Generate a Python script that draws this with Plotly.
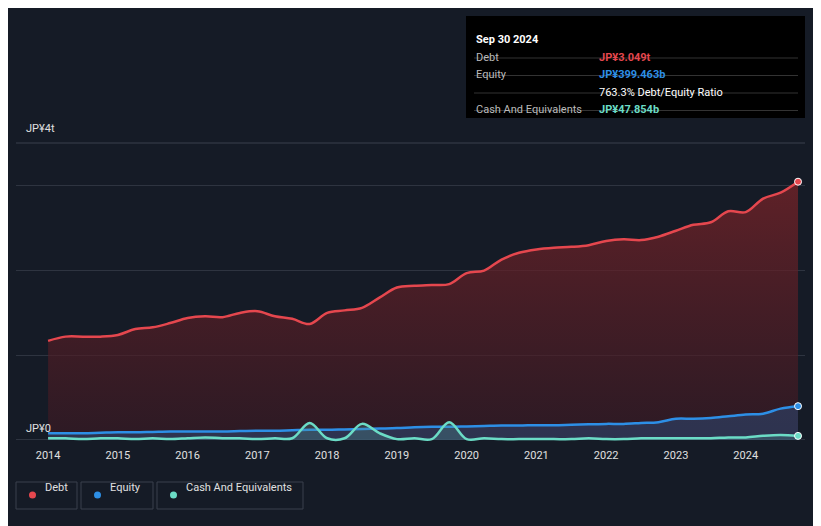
"""Plotly chart: debt / equity history."""
import plotly.graph_objects as go

QUARTERS = [2014 + i * 0.25 for i in range(44)]
DEBT = [1.17, 1.22, 1.22, 1.22, 1.24, 1.31, 1.33, 1.38, 1.44, 1.46, 1.45, 1.50,
        1.52, 1.46, 1.43, 1.37, 1.50, 1.53, 1.56, 1.68, 1.80, 1.82, 1.83, 1.84,
        1.97, 2.00, 2.13, 2.21, 2.25, 2.27, 2.28, 2.30, 2.35, 2.37, 2.36, 2.40,
        2.47, 2.54, 2.57, 2.70, 2.69, 2.85, 2.92, 3.049]
EQUITY = [0.08, 0.08, 0.08, 0.085, 0.09, 0.09, 0.095, 0.10, 0.10, 0.10, 0.10, 0.105,
          0.11, 0.11, 0.115, 0.12, 0.12, 0.125, 0.13, 0.135, 0.14, 0.15, 0.155, 0.155,
          0.16, 0.165, 0.17, 0.17, 0.175, 0.175, 0.18, 0.185, 0.19, 0.19, 0.20, 0.21,
          0.25, 0.25, 0.26, 0.28, 0.30, 0.31, 0.37, 0.399]
CASH = [0.02, 0.02, 0.01, 0.02, 0.02, 0.01, 0.02, 0.01, 0.02, 0.03, 0.02, 0.02,
        0.01, 0.02, 0.02, 0.20, 0.02, 0.02, 0.19, 0.08, 0.01, 0.02, 0.01, 0.21,
        0.01, 0.02, 0.01, 0.01, 0.01, 0.01, 0.01, 0.02, 0.01, 0.01, 0.02, 0.02,
        0.02, 0.02, 0.02, 0.03, 0.03, 0.05, 0.06, 0.048]
YEARS = list(range(2014, 2025))

BG = '#151b26'
RED, BLUE, TEAL = '#e5474e', '#2d8fe6', '#6bdcc6'

fig = go.Figure()

fig.add_trace(go.Scatter(
    x=QUARTERS, y=DEBT, mode='lines', line=dict(color=RED, width=2.5, shape='spline'),
    fill='tozeroy', fillgradient=dict(type='vertical', colorscale=[[0, 'rgba(60,25,35,0.6)'], [1, 'rgba(120,35,40,0.75)']]),
    showlegend=False,
))
fig.add_trace(go.Scatter(
    x=QUARTERS, y=EQUITY, mode='lines', line=dict(color=BLUE, width=2.5, shape='spline'),
    fill='tozeroy', fillcolor='rgba(45,100,160,0.35)', showlegend=False,
))
fig.add_trace(go.Scatter(
    x=QUARTERS, y=CASH, mode='lines', line=dict(color=TEAL, width=2.5, shape='spline'),
    fill='tozeroy', fillcolor='rgba(80,150,150,0.3)', showlegend=False,
))
for series, color in [(DEBT, RED), (EQUITY, BLUE), (CASH, TEAL)]:
    fig.add_trace(go.Scatter(
        x=[QUARTERS[-1]], y=[series[-1]], mode='markers', showlegend=False,
        marker=dict(size=7, color=color, line=dict(color='white', width=1)),
    ))

fig.update_layout(
    width=821, height=526,
    paper_bgcolor=BG, plot_bgcolor=BG,
    margin=dict(l=8, r=24, t=135, b=87),  # page has an 8px body offset
    font=dict(family='Roboto, Arial', color='#e6e6e6', size=11),
    xaxis=dict(range=[2013.54, 2024.85], tickvals=YEARS, ticktext=[str(y) for y in YEARS],
               showgrid=False, zeroline=False, ticks='', tickfont=dict(size=11, color='#e0e0e0')),
    yaxis=dict(range=[-0.083, 3.506], tickvals=[0, 1, 2, 3], showticklabels=False,
               gridcolor='#2e3440', gridwidth=1, zeroline=False),
)
fig.add_shape(type='line', xref='paper', yref='paper', x0=0, x1=1, y0=1, y1=1,
              line=dict(color='#3a404c', width=1))
fig.add_annotation(text='JP¥4t', xref='paper', yref='paper', x=0.01, y=1.02, xanchor='left',
                   yanchor='bottom', showarrow=False, font=dict(size=11, color='#e0e0e0'))
fig.add_annotation(text='JP¥0', xref='paper', x=0.01, y=0.03, yref='y', xanchor='left',
                   yanchor='bottom', showarrow=False, font=dict(size=11, color='#e0e0e0'))

# tooltip box
fig.add_shape(type='rect', xref='paper', yref='paper', x0=(466 - 16) / 789, x1=(805 - 16) / 789,
              y0=(447 - 118) / 304, y1=(447 - 16) / 304, fillcolor='#000000', line=dict(width=0))
rows = [('Debt', 'JP¥3.049t', RED), ('Equity', 'JP¥399.463b', BLUE),
        ('', '763.3% Debt/Equity Ratio', '#ffffff'), ('Cash And Equivalents', 'JP¥47.854b', TEAL)]
fig.add_annotation(text='<b>Sep 30 2024</b>', xref='paper', yref='paper', x=(474 - 16) / 789,
                   y=(447 - 31) / 304, xanchor='left', showarrow=False, font=dict(size=11, color='white'))
for i, (label, value, color) in enumerate(rows):
    ypix = 49 + i * 17.5
    fig.add_annotation(text=label, xref='paper', yref='paper', x=(474 - 16) / 789, y=(447 - ypix) / 304,
                       xanchor='left', showarrow=False, font=dict(size=11, color='#bbbbbb'))
    fig.add_annotation(text=f'<b>{value}</b>' if label else value, xref='paper', yref='paper',
                       x=(597 - 16) / 789, y=(447 - ypix) / 304,
                       xanchor='left', showarrow=False, font=dict(size=11, color=color))
    fig.add_shape(type='line', xref='paper', yref='paper', x0=(474 - 16) / 789, x1=(798 - 16) / 789,
                  y0=(447 - ypix - 9) / 304, y1=(447 - ypix - 9) / 304, line=dict(color='#333', width=1))

# legend
legend = [('Debt', RED, 16, 77), ('Equity', BLUE, 81, 153), ('Cash And Equivalents', TEAL, 157, 303)]
for name, color, x0, x1 in legend:
    fig.add_shape(type='rect', xref='paper', yref='paper', x0=(x0 - 16) / 789, x1=(x1 - 16) / 789,
                  y0=(447 - 509) / 304, y1=(447 - 482) / 304, line=dict(color='#3a404c', width=1))
    fig.add_shape(type='circle', xref='paper', yref='paper', x0=(x0 + 13 - 16) / 789, x1=(x0 + 20 - 16) / 789,
                  y0=(447 - 498.5) / 304, y1=(447 - 491.5) / 304, fillcolor=color, line=dict(width=0))
    fig.add_annotation(text=name, xref='paper', yref='paper', x=(x0 + 27 - 16) / 789, y=(447 - 496) / 304,
                       xanchor='left', showarrow=False, font=dict(size=11, color='#e0e0e0'))

fig.write_html('out.html')
